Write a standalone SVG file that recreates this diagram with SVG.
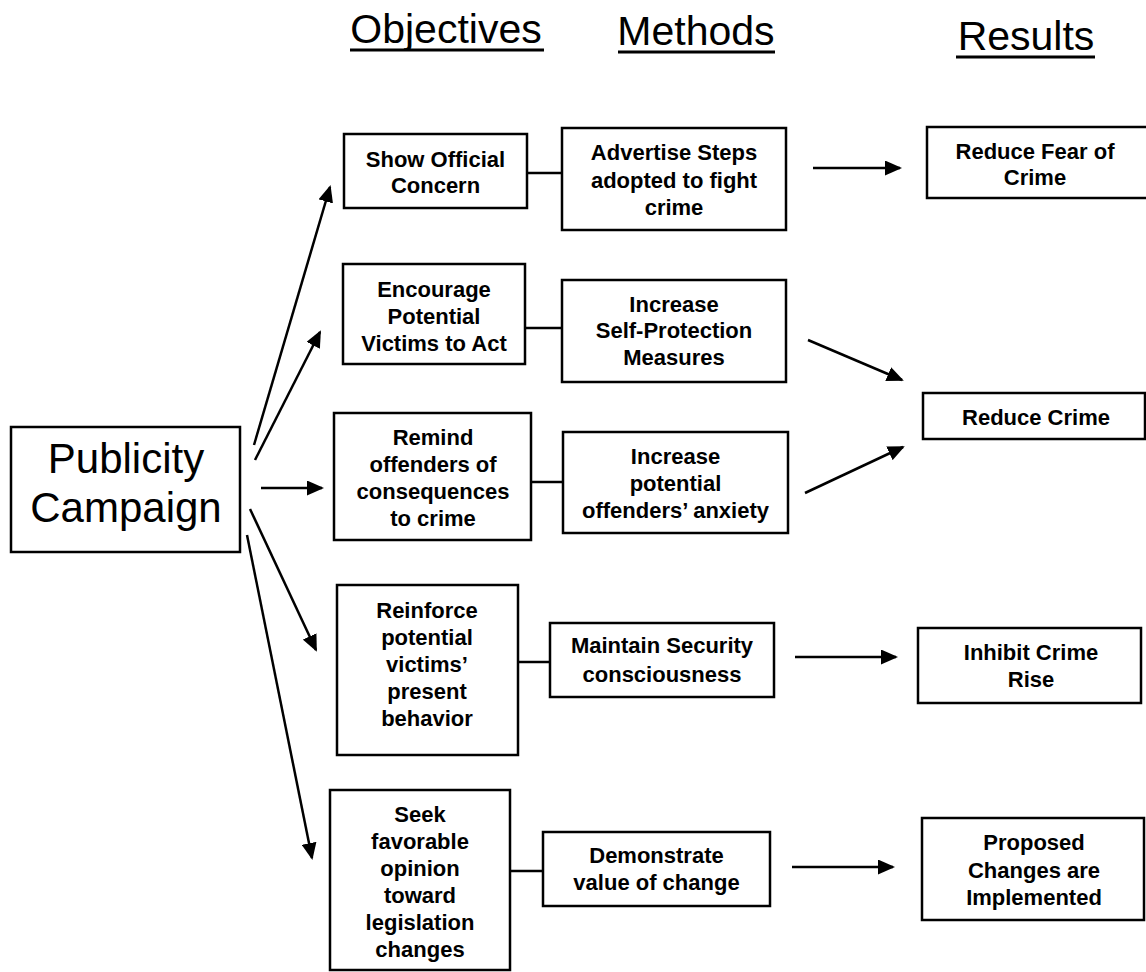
<svg xmlns="http://www.w3.org/2000/svg" width="1146" height="972" viewBox="0 0 1146 972">
<defs>
<style>
.box{fill:#fff;stroke:#000;stroke-width:2.5}
.t{font-family:"Liberation Sans",Arial,sans-serif;font-weight:bold;font-size:22px;fill:#000;text-anchor:middle}
.big{font-family:"Liberation Sans",Arial,sans-serif;font-size:42px;fill:#000;text-anchor:middle}
.hd{font-family:"Liberation Sans",Arial,sans-serif;font-size:41px;fill:#000;text-anchor:middle}
.ul{stroke:#000;stroke-width:3}
.ln{stroke:#000;stroke-width:2.5;fill:none}
.ar{stroke:#000;stroke-width:2.5;fill:none;marker-end:url(#ah)}
</style>
<marker id="ah" markerUnits="userSpaceOnUse" markerWidth="17" markerHeight="15" refX="15" refY="7.5" orient="auto" viewBox="0 0 17 15">
<path d="M0,0 L17,7.5 L0,15 z" fill="#000"/>
</marker>
</defs>
<rect width="1146" height="972" fill="#fff"/>
<g id="headers">
<text class="hd" x="446" y="43">Objectives</text>
<line class="ul" x1="350" y1="50" x2="544" y2="50"/>
<text class="hd" x="696" y="45">Methods</text>
<line class="ul" x1="618" y1="52" x2="775" y2="52"/>
<text class="hd" x="1026" y="50">Results</text>
<line class="ul" x1="956" y1="57" x2="1095" y2="57"/>
</g>
<g id="publicity">
<rect class="box" x="11" y="427" width="229" height="125"/>
<text class="big" x="126" y="473">Publicity</text>
<text class="big" x="126" y="522">Campaign</text>
</g>
<g id="obj1">
<rect class="box" x="344" y="134" width="183" height="74"/>
<text class="t" x="435.5" y="167">Show Official</text>
<text class="t" x="435.5" y="193">Concern</text>
</g>
<g id="obj2">
<rect class="box" x="343" y="264" width="182" height="100"/>
<text class="t" x="434" y="297">Encourage</text>
<text class="t" x="434" y="324">Potential</text>
<text class="t" x="434" y="351">Victims to Act</text>
</g>
<g id="obj3">
<rect class="box" x="334" y="413" width="197" height="127"/>
<text class="t" x="433" y="445">Remind</text>
<text class="t" x="433" y="472">offenders of</text>
<text class="t" x="433" y="499">consequences</text>
<text class="t" x="433" y="526">to crime</text>
</g>
<g id="obj4">
<rect class="box" x="337" y="585" width="181" height="170"/>
<text class="t" x="427" y="618">Reinforce</text>
<text class="t" x="427" y="645">potential</text>
<text class="t" x="427" y="672">victims’</text>
<text class="t" x="427" y="699">present</text>
<text class="t" x="427" y="726">behavior</text>
</g>
<g id="obj5">
<rect class="box" x="330" y="790" width="180" height="180"/>
<text class="t" x="420" y="822">Seek</text>
<text class="t" x="420" y="849">favorable</text>
<text class="t" x="420" y="876">opinion</text>
<text class="t" x="420" y="903">toward</text>
<text class="t" x="420" y="930">legislation</text>
<text class="t" x="420" y="957">changes</text>
</g>
<g id="m1">
<rect class="box" x="562" y="128" width="224" height="102"/>
<text class="t" x="674" y="160">Advertise Steps</text>
<text class="t" x="674" y="188">adopted to fight</text>
<text class="t" x="674" y="215">crime</text>
</g>
<g id="m2">
<rect class="box" x="562" y="280" width="224" height="102"/>
<text class="t" x="674" y="312">Increase</text>
<text class="t" x="674" y="338">Self-Protection</text>
<text class="t" x="674" y="365">Measures</text>
</g>
<g id="m3">
<rect class="box" x="563" y="432" width="225" height="101"/>
<text class="t" x="675.5" y="464">Increase</text>
<text class="t" x="675.5" y="491">potential</text>
<text class="t" x="675.5" y="518">offenders’ anxiety</text>
</g>
<g id="m4">
<rect class="box" x="550" y="623" width="224" height="74"/>
<text class="t" x="662" y="653">Maintain Security</text>
<text class="t" x="662" y="682">consciousness</text>
</g>
<g id="m5">
<rect class="box" x="543" y="832" width="227" height="74"/>
<text class="t" x="656.5" y="863">Demonstrate</text>
<text class="t" x="656.5" y="890">value of change</text>
</g>
<g id="r1">
<rect class="box" x="927" y="127" width="225" height="71"/>
<text class="t" x="1035" y="159">Reduce Fear of</text>
<text class="t" x="1035" y="185">Crime</text>
</g>
<g id="r2">
<rect class="box" x="923" y="393" width="222" height="46"/>
<text class="t" x="1036" y="425">Reduce Crime</text>
</g>
<g id="r3">
<rect class="box" x="918" y="628" width="223" height="75"/>
<text class="t" x="1031" y="660">Inhibit Crime</text>
<text class="t" x="1031" y="687">Rise</text>
</g>
<g id="r4">
<rect class="box" x="922" y="818" width="222" height="102"/>
<text class="t" x="1034" y="850">Proposed</text>
<text class="t" x="1034" y="878">Changes are</text>
<text class="t" x="1034" y="905">Implemented</text>
</g>
<g id="connectors">
<line class="ln" x1="527" y1="173" x2="562" y2="173"/>
<line class="ln" x1="525" y1="328" x2="562" y2="328"/>
<line class="ln" x1="531" y1="482" x2="563" y2="482"/>
<line class="ln" x1="518" y1="662" x2="550" y2="662"/>
<line class="ln" x1="510" y1="871" x2="543" y2="871"/>
<line class="ar" x1="254" y1="445" x2="330" y2="187"/>
<line class="ar" x1="255" y1="460" x2="320" y2="332"/>
<line class="ar" x1="261" y1="488" x2="322" y2="488"/>
<line class="ar" x1="250" y1="509" x2="316" y2="650"/>
<line class="ar" x1="247" y1="535" x2="312" y2="858"/>
<line class="ar" x1="813" y1="168" x2="900" y2="168"/>
<line class="ar" x1="808" y1="340" x2="902" y2="380"/>
<line class="ar" x1="805" y1="493" x2="903" y2="447"/>
<line class="ar" x1="795" y1="657" x2="896" y2="657"/>
<line class="ar" x1="792" y1="867" x2="893" y2="867"/>
</g>
</svg>
